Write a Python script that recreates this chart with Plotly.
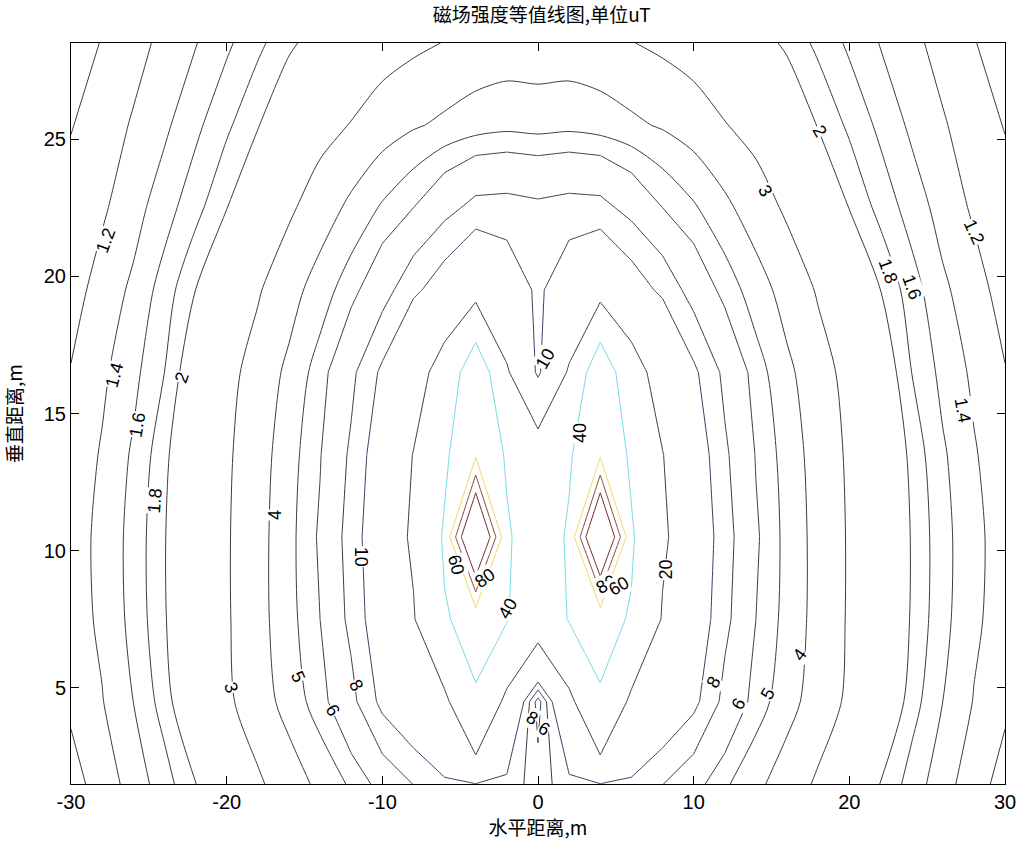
import numpy as np
import plotly.graph_objects as go

# Grid nodes: horizontal distance (m, right half, mirrored about x=0) and height (m)
x_half = [0, 2, 4, 6, 8, 10, 12, 14, 16, 18, 20, 22, 24, 26, 28, 30]
y_nodes = [1.5, 4.5, 7.5, 10.5, 13.5, 16.5, 19.5, 22.5, 25.5, 28.5]

# Magnetic flux density (uT) on each row, x = 0 ... 30
b_y01_5 = [7.0, 9.2, 9.9, 9.4, 8.05, 6.5, 5.16, 4.24, 3.48, 2.86, 2.42, 1.99, 1.71, 1.48, 1.29, 1.12]
b_y04_5 = [5.0, 16.0, 38.5, 16.7, 12.5, 10.6, 7.41, 5.5, 4.37, 3.5, 2.83, 2.33, 1.89, 1.6, 1.39, 1.24]
b_y07_5 = [26.0, 41.0, 45.0, 38.8, 19.0, 11.83, 8.5, 6.0, 4.61, 3.64, 2.9, 2.43, 1.97, 1.66, 1.44, 1.30]
b_y10_5 = [30.0, 42.0, 150.0, 42.0, 21.9, 12.27, 8.78, 6.18, 4.65, 3.64, 2.91, 2.44, 1.98, 1.67, 1.45, 1.31]
b_y13_5 = [25.0, 38.0, 57.0, 37.0, 20.3, 11.67, 8.33, 5.92, 4.53, 3.56, 2.86, 2.38, 1.93, 1.63, 1.42, 1.27]
b_y16_5 = [9.0, 21.0, 55.0, 25.0, 15.0, 10.44, 7.53, 5.46, 4.22, 3.36, 2.72, 2.21, 1.80, 1.54, 1.36, 1.21]
b_y19_5 = [9.5, 12.0, 14.0, 11.5, 9.43, 7.13, 5.59, 4.47, 3.59, 2.91, 2.45, 2.0, 1.69, 1.44, 1.28, 1.12]
b_y22_5 = [8.4, 8.7, 8.6, 7.33, 6.0, 5.13, 4.23, 3.46, 2.85, 2.41, 1.99, 1.73, 1.51, 1.32, 1.17, 1.08]
b_y25_5 = [4.6, 4.7, 4.5, 4.2, 3.89, 3.47, 3.04, 2.68, 2.32, 1.98, 1.76, 1.55, 1.36, 1.22, 1.10, 0.99]
b_y28_5 = [3.4, 3.4, 3.3, 3.03, 2.80, 2.59, 2.37, 2.15, 1.94, 1.75, 1.56, 1.39, 1.25, 1.13, 1.01, 0.90]

rows = [b_y01_5, b_y04_5, b_y07_5, b_y10_5, b_y13_5,
        b_y16_5, b_y19_5, b_y22_5, b_y25_5, b_y28_5]

# Contour levels (uT) and their line colours
levels = [1.0, 1.2, 1.4, 1.6, 1.8, 2, 3, 4, 5, 6, 8, 10, 20, 40, 60, 80, 100]
dark = "#3c3c48"
level_colors = {10: "#3d3d62", 40: "#74dbe4", 60: "#f3d866", 80: "#8c4a3c", 100: "#6e2a26"}
smooth_below = 6  # far-field levels drawn as softened curves

# Contour labels: level, x, y, text angle
label_marks = [
    (2, 18.1, 25.3, 60), (3, 14.6, 23.1, 60), (1.2, 28.0, 21.6, 65),
    (1.8, 22.5, 20.2, 70), (1.6, 24.0, 19.6, 70), (1.4, 27.3, 15.1, 80),
    (20, 8.2, 9.3, -90), (8, 11.3, 5.2, -60), (6, 12.9, 4.4, -60),
    (5, 14.8, 4.8, -60), (4, 16.8, 6.2, -55), (40, 2.65, 14.3, -90),
    (10, 0.45, 17.0, -60), (80, 4.4, 8.8, -30), (60, 5.2, 8.7, -30),
    (1.2, -27.8, 21.3, -70), (1.4, -27.2, 16.4, -75), (2, -22.9, 16.3, -70),
    (1.6, -25.7, 14.6, -80), (1.8, -24.6, 11.8, -85), (4, -16.9, 11.3, -90),
    (10, -11.4, 9.8, 90), (60, -5.3, 9.5, 75), (80, -3.4, 9.0, -35),
    (40, -1.9, 7.9, -60), (3, -19.7, 5.0, 70), (5, -15.4, 5.4, 65),
    (8, -11.7, 5.1, 60), (6, -13.2, 4.2, 60), (8, -0.4, 3.9, 30), (6, 0.4, 3.5, 30),
]

x_ticks = [-30, -20, -10, 0, 10, 20, 30]
y_ticks = [5, 10, 15, 20, 25]

x_full = np.array([-v for v in x_half[:0:-1]] + x_half, dtype=float)
z_full = np.array([list(r[:0:-1]) + list(r) for r in rows], dtype=float)

fig = go.Figure()
for lev in levels:
    col = level_colors.get(lev, dark)
    fig.add_trace(go.Contour(
        x=x_full, y=y_nodes, z=z_full,
        autocontour=False,
        contours=dict(start=lev, end=lev, size=1, coloring="lines", showlabels=False),
        colorscale=[[0, col], [1, col]],
        line=dict(width=1, smoothing=0.8 if lev < smooth_below else 0),
        showscale=False, hoverinfo="skip",
    ))

for lev, lx, ly, ang in label_marks:
    fig.add_annotation(
        x=lx, y=ly, xref="x", yref="y", text=f"{lev:g}", showarrow=False,
        textangle=ang, bgcolor="white", borderpad=0,
        font=dict(family="Liberation Sans, Arial", size=18, color="black"),
    )

tick_font = dict(family="Liberation Sans, Arial", size=20, color="black")
axis_common = dict(
    showgrid=False, zeroline=False, showline=True, linecolor="black", linewidth=1,
    mirror="allticks", ticks="inside", ticklen=8, tickcolor="black", tickfont=tick_font,
)
cjk_font = dict(family="Noto Sans CJK SC", size=19, color="black")
fig.update_xaxes(range=[-30, 30], tickvals=x_ticks, ticktext=[f"{v:d}" for v in x_ticks],
                 title=dict(text="水平距离,m", font=cjk_font, standoff=2), **axis_common)
fig.update_yaxes(range=[1.5, 28.5], tickvals=y_ticks, ticktext=[f"{v:d}" for v in y_ticks],
                 title=dict(text="垂直距离,m", font=cjk_font, standoff=18), **axis_common)

fig.update_layout(
    width=1028, height=848,
    margin=dict(l=71, r=16, t=43, b=64),
    paper_bgcolor="white", plot_bgcolor="white",
    showlegend=False,
    title=dict(text="磁场强度等值线图,单位uT", x=0.527, xanchor="center", y=0.99, yanchor="top",
               font=cjk_font),
)

fig.write_html("out.html")
